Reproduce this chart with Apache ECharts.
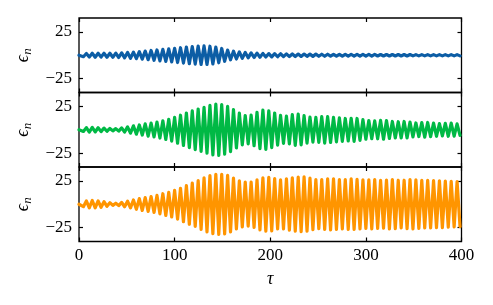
<!DOCTYPE html>
<html><head><meta charset="utf-8">
<script src="https://cdn.jsdelivr.net/npm/echarts@6/dist/echarts.min.js"></script>
<style>html,body{margin:0;padding:0;background:#fff}#c{width:493px;height:305px}</style>
</head><body><div id="c"></div>
<script>
// x ticks and y ticks
const xTicks = [0, 100, 200, 300, 400];
const yTicks = [-25, 25];
const colors = ['#0C5DA5', '#00B945', '#FF9500'];
// successive extrema (peak / trough) of epsilon_n,
// sampled every half oscillation period over tau in [0, 400]
const halfPeriod = 400 / 130;
const blue = [0,
 1.2,-1.6,1.9,-2.0,2.1,-2.1,2.1,-2.0,2.1,-2.1,
 2.2,-2.2,2.3,-2.4,2.6,-2.8,3.0,-3.2,3.4,-3.7,
 3.9,-4.2,4.5,-4.8,5.1,-5.4,5.7,-6.0,6.3,-6.6,
 6.9,-7.2,7.5,-7.8,8.1,-8.4,8.8,-9.1,9.3,-9.5,
 9.8,-9.9,10.0,-9.9,9.7,-9.3,8.7,-8.1,7.3,-6.5,
 5.6,-4.9,4.4,-4.0,3.6,-3.3,3.0,-2.8,2.6,-2.4,
 2.3,-2.1,2.0,-1.9,1.8,-1.8,1.7,-1.6,1.6,-1.5,
 1.5,-1.4,1.4,-1.4,1.3,-1.3,1.3,-1.2,1.2,-1.2,
 1.2,-1.1,1.1,-1.1,1.1,-1.0,1.0,-1.0,1.0,-1.0,
 1.0,-0.9,0.9,-0.9,0.9,-0.9,0.9,-0.9,0.9,-0.9,
 0.9,-0.8,0.8,-0.8,0.8,-0.8,0.8,-0.8,0.8,-0.8,
 0.8,-0.8,0.8,-0.7,0.7,-0.7,0.7,-0.7,0.7,-0.7,
 0.7,-0.7,0.7,-0.7,0.7,-0.7,0.7,-0.7,0.7,-0.7];
const green = [0,
 1.0,-1.8,2.3,-2.5,2.5,-2.4,2.2,-2.0,1.8,-1.6,
 1.4,-1.2,1.2,-1.5,2.0,-2.5,3.1,-3.7,4.2,-4.8,
 5.2,-5.7,6.3,-6.8,7.2,-7.7,8.3,-8.9,9.6,-10.4,
 11.2,-12.2,13.3,-14.5,15.6,-16.9,18.0,-19.3,20.4,-21.4,
 22.3,-23.2,24.0,-25.2,26.2,-27.0,27.5,-27.5,27.0,-26.2,
 25.0,-23.5,21.6,-19.6,17.8,-16.3,15.3,-15.2,15.8,-17.2,
 18.8,-20.2,21.0,-21.0,20.3,-19.2,18.0,-16.6,15.4,-14.7,
 14.6,-15.2,16.2,-16.8,16.8,-16.2,15.2,-14.3,13.6,-13.2,
 13.2,-13.6,14.1,-14.3,14.1,-13.7,13.2,-13.0,12.8,-12.4,
 12.1,-12.0,12.3,-12.4,12.1,-11.4,10.8,-10.2,9.8,-9.6,
 9.5,-9.7,10.0,-10.1,9.8,-9.3,8.9,-8.7,8.6,-8.7,
 8.9,-8.8,8.3,-7.7,7.3,-7.3,7.6,-7.9,7.8,-7.5,
 7.2,-7.0,6.7,-6.6,6.8,-7.0,7.1,-6.8,6.4,-6.1];
const orange = [0,
 1.5,-2.6,3.6,-3.9,4.0,-3.9,3.6,-3.2,2.8,-2.2,
 1.7,-1.2,1.1,-1.4,2.0,-2.7,3.2,-3.9,4.6,-5.4,
 6.0,-6.7,7.2,-7.7,8.2,-8.8,9.5,-10.3,11.3,-12.0,
 12.8,-13.7,14.9,-16.0,17.2,-18.8,20.1,-21.5,22.7,-23.9,
 25.5,-27.0,28.4,-29.7,30.8,-31.6,32.2,-32.4,32.2,-31.8,
 31.0,-29.8,28.2,-26.5,25.2,-24.4,23.7,-23.4,23.8,-24.8,
 26.2,-27.5,28.3,-28.8,29.0,-28.6,27.6,-26.6,26.2,-26.5,
 27.2,-27.9,28.4,-28.8,29.1,-29.5,29.5,-29.0,28.2,-27.3,
 26.6,-26.3,26.5,-27.0,27.4,-27.5,27.3,-26.9,26.5,-26.4,
 26.6,-27.0,27.2,-27.1,26.8,-26.4,26.1,-26.0,26.2,-26.5,
 26.4,-26.0,25.7,-25.6,26.0,-26.5,26.6,-26.2,25.8,-25.5,
 25.8,-26.3,26.6,-26.6,26.3,-25.9,25.6,-25.5,25.6,-25.5,
 25.4,-25.2,25.0,-25.0,24.9,-24.7,24.5,-24.4,24.2,-24.0];
const tau = blue.map((_, i) => i === 0 ? 0 : (i - 0.5) * halfPeriod);
const panels = [blue, green, orange];

const FONT = "'Liberation Serif', 'DejaVu Serif', serif";
const fmt = v => v < 0 ? '\u2212' + (-v) : String(v);
const tops = [18, 92.5, 167];
const H = 74.5;

const grid = [], xAxis = [], yAxis = [], series = [];
panels.forEach((vals, k) => {
  grid.push({left: 79, right: 31.5, top: tops[k], height: H, show: true,
    borderColor: '#000', borderWidth: 1.3, backgroundColor: 'transparent'});
  const tick = {show: true, inside: true, length: 4, lineStyle: {color: '#000', width: 1.2}};
  ['bottom', 'top'].forEach(pos => {
    xAxis.push({type: 'value', gridIndex: k, position: pos, min: 0, max: 400, interval: 100,
      axisLine: {show: false, onZero: false}, splitLine: {show: false},
      axisTick: {...tick, customValues: xTicks},
      axisLabel: {show: pos === 'bottom' && k === 2, customValues: xTicks, margin: 6,
        fontFamily: FONT, fontSize: 17, color: '#000'},
      name: (pos === 'bottom' && k === 2) ? 'τ' : '',
      nameLocation: 'middle', nameGap: 29,
      nameTextStyle: {fontFamily: FONT, fontSize: 18, fontStyle: 'italic', color: '#000'}});
  });
  ['left', 'right'].forEach(pos => {
    yAxis.push({type: 'value', gridIndex: k, position: pos, min: -40, max: 40,
      axisLine: {show: false, onZero: false}, splitLine: {show: false},
      axisTick: {...tick, customValues: yTicks},
      axisLabel: {show: pos === 'left', customValues: yTicks, formatter: fmt, margin: 7,
        fontFamily: FONT, fontSize: 17, color: '#000'},
      name: pos === 'left' ? '{e|ϵ}{n|n}' : '',
      nameLocation: 'middle', nameRotate: 90, nameGap: 41,
      nameTextStyle: {fontFamily: FONT, color: '#000',
        rich: {e: {fontFamily: FONT, fontSize: 18, fontStyle: 'italic', color: '#000'},
               n: {fontFamily: FONT, fontSize: 13, fontStyle: 'italic', color: '#000',
                   padding: [9, 0, 0, 0]}}}});
  });
  series.push({type: 'line', xAxisIndex: 2 * k, yAxisIndex: 2 * k, showSymbol: false,
    symbol: 'none', smooth: false, clip: true, animation: false,
    lineStyle: {color: colors[k], width: 3.2, join: 'round', cap: 'round'},
    data: tau.map((t, i) => [t, vals[i]])});
});

const chart = echarts.init(document.getElementById('c'), null, {renderer: 'canvas'});
chart.setOption({animation: false, backgroundColor: '#fff', grid, xAxis, yAxis, series});
</script></body></html>
